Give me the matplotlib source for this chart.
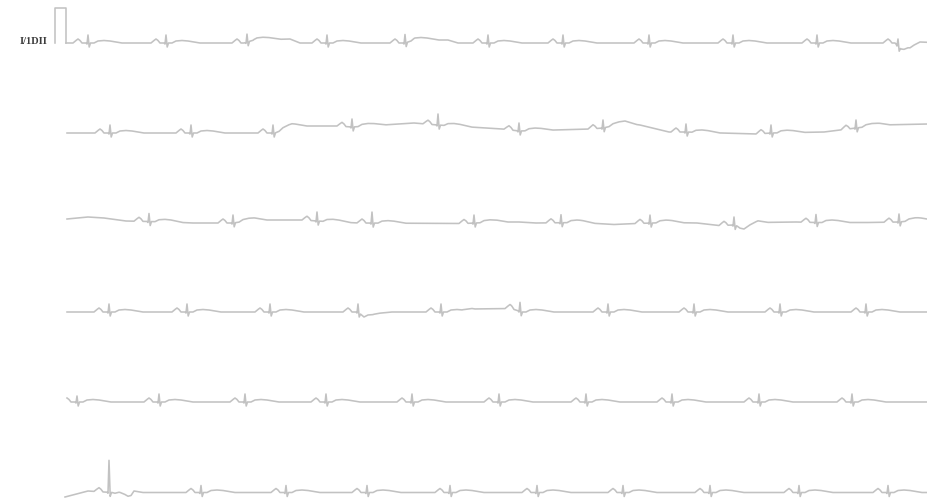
import numpy as np
import matplotlib.pyplot as plt

# ECG rhythm strip, lead II, 6 rows.
# x: sample index (1 sample per pixel column), y: amplitude units (cal pulse = 35.4)

lead_label = "I/1DII"

# one beat, relative to the R peak: offset in samples / amplitude
beat_dt = [-15, -12, -10, -8, -6, -2, -1, 0, 1.2, 2.5, 6, 10, 16, 22, 28, 34]
beat_amp = [0, 2.5, 4, 2.5, 0, 0, -1, 8, -4, 0, 0, 2, 2.5, 2, 1, 0]
R_INDEX = 7

cal_x = [55, 55, 66, 66]
cal_amp = [0, 35.4, 35.4, 0]

row_start = [66, 67, 67, 67, 67, 65]
row_end = 928

# R peak positions per row
r_peaks = [
    [88, 166, 247, 327, 405, 488, 563, 649, 733, 817, 898],
    [110, 191, 273, 352, 438, 519, 603, 686, 771, 856],
    [149, 233, 317, 372, 474, 561, 650, 734, 816, 899],
    [109, 187, 270, 358, 441, 520, 608, 694, 780, 866],
    [77, 159, 245, 326, 412, 499, 586, 672, 759, 852],
    [109, 201, 286, 367, 450, 537, 623, 710, 799, 888],
]

# R amplitude per beat
r_amp = [
    [8, 8, 8, 8, 8.5, 8, 8, 8, 8, 8, 7],
    [8, 8, 8, 8, 11, 8, 8, 8, 8, 8],
    [8, 8, 9, 11, 8, 8, 8, 8, 8, 8],
    [8, 8, 8, 8, 8, 9, 8, 8, 8, 8],
    [6, 8, 8, 8, 8, 8, 8, 8, 8, 8],
    [32, 7, 7, 7, 7, 7, 7, 7, 7, 7],
]

# baseline wander knots per row: (sample, level)
wander = [
    [(66, 0), (244, 0), (254, 3), (290, 4), (300, 0), (405, 0), (414, 3), (448, 3),
     (458, 0), (895, 0), (901, -6), (910, -7), (920, -1), (928, 0)],
    [(67, 0), (110, 0), (191, 0), (275, 0), (292, 7), (337, 7), (352, 6), (414, 10),
     (438, 8), (470, 6), (503, 4), (519, 2), (590, 4), (603, 5), (625, 10), (640, 8),
     (669, 1), (686, 1), (757, -1), (771, 0), (824, 1), (856, 5), (880, 8), (928, 9)],
    [(67, 4), (88, 6), (104, 5), (126, 2), (171, 1), (193, 0), (233, 0), (254, 3),
     (304, 3), (317, 2), (337, 1), (359, 0), (464, -0.5), (497, 1), (519, 1), (536, 0),
     (580, 0.5), (614, -1.5), (636, -0.5), (669, 0.5), (697, 0), (719, -2.5), (734, -2),
     (737, -3), (744, -8), (758, 0.5), (796, 1), (816, 0.5), (868, 0.5), (899, 1),
     (918, 3), (928, 3)],
    [(67, 0), (358, 0), (364, -5), (373, -5), (392, 0), (462, 0), (472, 3), (511, 3.5),
     (522, 0), (928, 0)],
    [(67, 0), (928, 0)],
    [(65, -4.5), (88, 1.5), (112, 0), (120, -2), (128, -6), (131, -5), (134, 0), (928, 0)],
]

row_base = [43, 133, 223, 312, 402, 492.5]

fig = plt.figure(figsize=(9.28, 4.99), dpi=100)
ax = fig.add_axes([0, 0, 1, 1])
ax.set_xlim(0, 928)
ax.set_ylim(499, 0)
ax.axis("off")

line_kw = dict(color="#c2c2c2", lw=1.15, solid_joinstyle="round")

for i in range(6):
    kx = [k[0] for k in wander[i]]
    kv = [k[1] for k in wander[i]]
    pts = set(kx) | {row_start[i], row_end}
    for p in r_peaks[i]:
        pts |= {p + d for d in beat_dt}
    xs = np.array(sorted(x for x in pts if row_start[i] <= x <= row_end), dtype=float)
    ys = np.interp(xs, kx, kv)
    for p, a in zip(r_peaks[i], r_amp[i]):
        tv = list(beat_amp)
        tv[R_INDEX] = a
        ys += np.interp(xs, [p + d for d in beat_dt], tv, left=0, right=0)
    ax.plot(xs, row_base[i] - ys, **line_kw)

ax.plot(cal_x, [row_base[0] - v for v in cal_amp], **line_kw)
ax.text(20, 41, lead_label, ha="left", va="center", fontsize=7.5,
        fontweight="bold", family="Liberation Serif", color="#3c3c3c")

fig.savefig("out.png", dpi=100, facecolor="white")
